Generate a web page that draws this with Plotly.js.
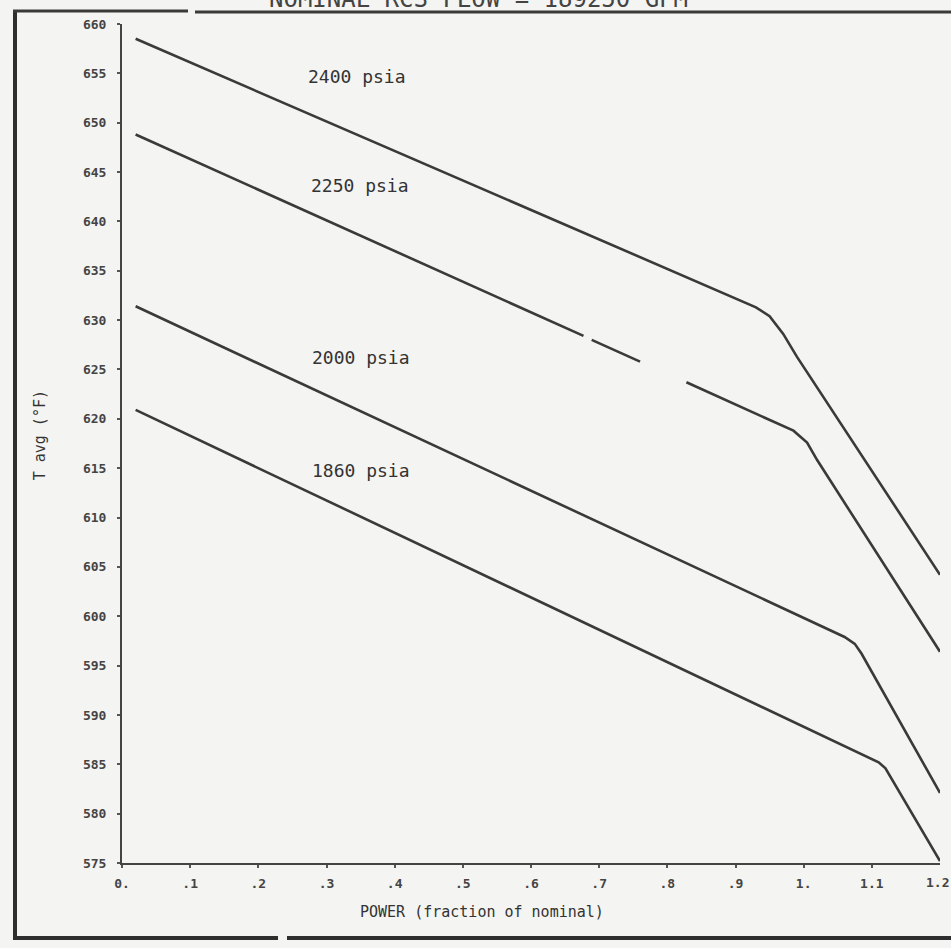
<!DOCTYPE html>
<html>
<head>
<meta charset="utf-8">
<script src="https://cdn.plot.ly/plotly-3.0.1.min.js"></script>
<style>html,body{margin:0;padding:0;background:#f4f4f2;}#chart{width:951px;height:948px;}</style>
</head>
<body>
<div id="chart"></div>
<script>
// ---- data ----
const power2400 = [0.02, 0.93, 0.95, 0.97, 0.99, 1.2];
const tavg2400  = [658.5, 631.3, 630.4, 628.6, 626.3, 604.2];

const power2250 = [0.02, 0.677, null, 0.689, 0.760, null, 0.828, 0.985, 1.005, 1.02, 1.2];
const tavg2250  = [648.8, 628.4, null, 628.0, 625.8, null, 623.7, 618.8, 617.6, 615.8, 596.4];

const power2000 = [0.02, 1.06, 1.075, 1.085, 1.2];
const tavg2000  = [631.4, 597.9, 597.2, 596.2, 582.1];

const power1860 = [0.02, 1.11, 1.12, 1.2];
const tavg1860  = [620.9, 585.2, 584.6, 575.2];

const seriesLabels = ['2400 psia', '2250 psia', '2000 psia', '1860 psia'];
const labelPower   = [0.345, 0.349, 0.351, 0.351];
const labelTavg    = [654.7, 643.6, 626.2, 614.8];

const xTickVals = [0, 0.1, 0.2, 0.3, 0.4, 0.5, 0.6, 0.7, 0.8, 0.9, 1.0, 1.1];
const xTickText = ['0.', '.1', '.2', '.3', '.4', '.5', '.6', '.7', '.8', '.9', '1.', '1.1'];
const xLastTickVal = 1.2;
const xLastTickText = '1.2';
const yTickVals = [575, 580, 585, 590, 595, 600, 605, 610, 615, 620, 625, 630, 635, 640, 645, 650, 655, 660];

const titleText = 'NOMINAL RCS FLOW = 189250 GPM';
const xTitle = 'POWER (fraction of nominal)';
const yTitle = 'T avg (°F)';

// ---- chart ----
const ink = '#3a3a3a';
const mono = '"DejaVu Sans Mono", "Liberation Mono", monospace';
const lineStyle = {color: ink, width: 2.6};
const tickFont = {family: mono, size: 13, color: '#444', weight: 'bold'};

const traces = [
  {x: power2400, y: tavg2400},
  {x: power2250, y: tavg2250},
  {x: power2000, y: tavg2000},
  {x: power1860, y: tavg1860}
].map(t => Object.assign(t, {type: 'scatter', mode: 'lines', line: lineStyle, connectgaps: false, hoverinfo: 'skip', showlegend: false}));

const annotations = seriesLabels.map((s, i) => ({
  x: labelPower[i], y: labelTavg[i], xref: 'x', yref: 'y', text: s,
  showarrow: false, xanchor: 'center', yanchor: 'middle',
  font: {family: mono, size: 18, color: '#333'}
}));

// last x tick label (sits at the right edge, as in the reference)
annotations.push({
  x: xLastTickVal, y: 0, xref: 'x', yref: 'paper', yshift: -10, xshift: -3, text: xLastTickText,
  showarrow: false, xanchor: 'center', yanchor: 'top', font: tickFont
});

annotations.push({
  x: 0.528, y: -0.058, xref: 'x', yref: 'paper', text: xTitle, showarrow: false,
  xanchor: 'center', yanchor: 'middle', font: {family: mono, size: 15, color: '#333'}
});
annotations.push({
  x: -0.1, y: 0.51, xref: 'paper', yref: 'paper', text: yTitle, showarrow: false, textangle: -90,
  xanchor: 'center', yanchor: 'middle', font: {family: mono, size: 15, color: '#333'}
});
annotations.push({
  x: 0.436, y: 1.03, xref: 'paper', yref: 'paper', text: titleText, showarrow: false,
  xanchor: 'center', yanchor: 'middle', font: {family: mono, size: 24, color: '#444'}
});

function px2paperX(p) { return (p - 122) / 818; }
function px2paperY(p) { return (863 - p) / 839; }
const frame = {color: '#2e2e2e', width: 4};
const shapes = [
  {type: 'line', xref: 'paper', yref: 'paper', x0: px2paperX(15), x1: px2paperX(15), y0: px2paperY(11), y1: px2paperY(939), line: frame},
  {type: 'line', xref: 'paper', yref: 'paper', x0: px2paperX(13), x1: px2paperX(188), y0: px2paperY(11), y1: px2paperY(11), line: {color: '#3a3a3a', width: 3}},
  {type: 'line', xref: 'paper', yref: 'paper', x0: px2paperX(195), x1: px2paperX(951), y0: px2paperY(12), y1: px2paperY(12), line: {color: '#3a3a3a', width: 3}},
  {type: 'line', xref: 'paper', yref: 'paper', x0: px2paperX(13), x1: px2paperX(278), y0: px2paperY(938), y1: px2paperY(938), line: frame},
  {type: 'line', xref: 'paper', yref: 'paper', x0: px2paperX(287), x1: px2paperX(951), y0: px2paperY(938), y1: px2paperY(938), line: frame}
];

const layout = {
  width: 951, height: 948,
  margin: {l: 122, r: 11, t: 24, b: 85},
  paper_bgcolor: '#f4f4f2', plot_bgcolor: '#f4f4f2',
  showlegend: false,
  xaxis: {
    range: [0, 1.2], tickvals: xTickVals, ticktext: xTickText,
    showgrid: false, zeroline: false, showline: true, linecolor: '#444', linewidth: 2,
    ticks: 'outside', ticklen: 3, tickwidth: 2, tickcolor: '#555', ticklabelstandoff: 4,
    tickfont: tickFont
  },
  yaxis: {
    range: [575, 660], tickvals: yTickVals,
    showgrid: false, zeroline: false, showline: true, linecolor: '#444', linewidth: 2,
    ticks: 'outside', ticklen: 3, tickwidth: 2, tickcolor: '#555', ticklabelstandoff: 8,
    tickfont: tickFont
  },
  annotations: annotations,
  shapes: shapes
};

Plotly.newPlot('chart', traces, layout, {staticPlot: true, displayModeBar: false});
</script>
</body>
</html>
